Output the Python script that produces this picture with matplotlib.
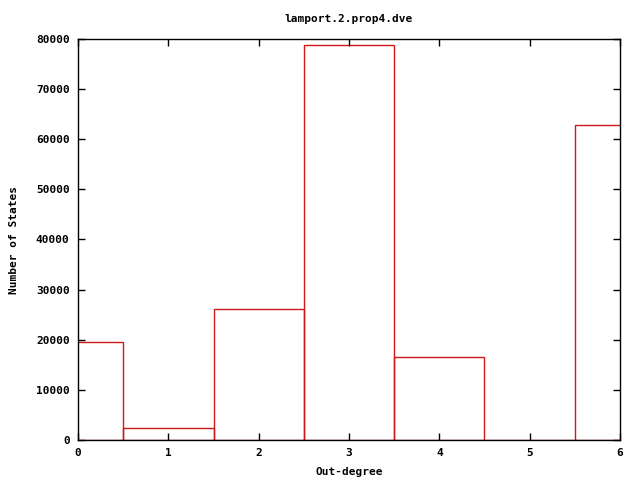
import matplotlib
matplotlib.use("Agg")
import matplotlib.pyplot as plt

# out-degree histogram values
degrees = [0, 1, 2, 3, 4, 5, 6]
states = [19500, 2400, 26050, 78750, 16500, 0, 62850]
x_ticks = [0, 1, 2, 3, 4, 5, 6]
y_ticks = [0, 10000, 20000, 30000, 40000, 50000, 60000, 70000, 80000]

FONT = dict(family="DejaVu Sans Mono", weight="bold", size=8)

fig = plt.figure(figsize=(6.4, 4.8), dpi=100)
ax = fig.add_axes([78 / 640, 40 / 480, 542 / 640, 401 / 480])

ax.bar(degrees, states, width=1.0, fill=False, edgecolor="#d01818", linewidth=1.0)

ax.set_xlim(0, 6)
ax.set_ylim(0, 80000)
ax.set_xticks(x_ticks)
ax.set_yticks(y_ticks)
ax.set_xticklabels([str(t) for t in x_ticks], **FONT)
ax.set_yticklabels([str(t) for t in y_ticks], **FONT)
ax.tick_params(direction="in", top=True, right=True, length=5, width=1, pad=6)
for s in ax.spines.values():
    s.set_linewidth(1.0)

ax.set_title("lamport.2.prop4.dve", pad=12, **FONT)
ax.set_xlabel("Out-degree", labelpad=6, **FONT)
ax.set_ylabel("Number of States", labelpad=12, **FONT)

fig.savefig("out.png", dpi=100)
